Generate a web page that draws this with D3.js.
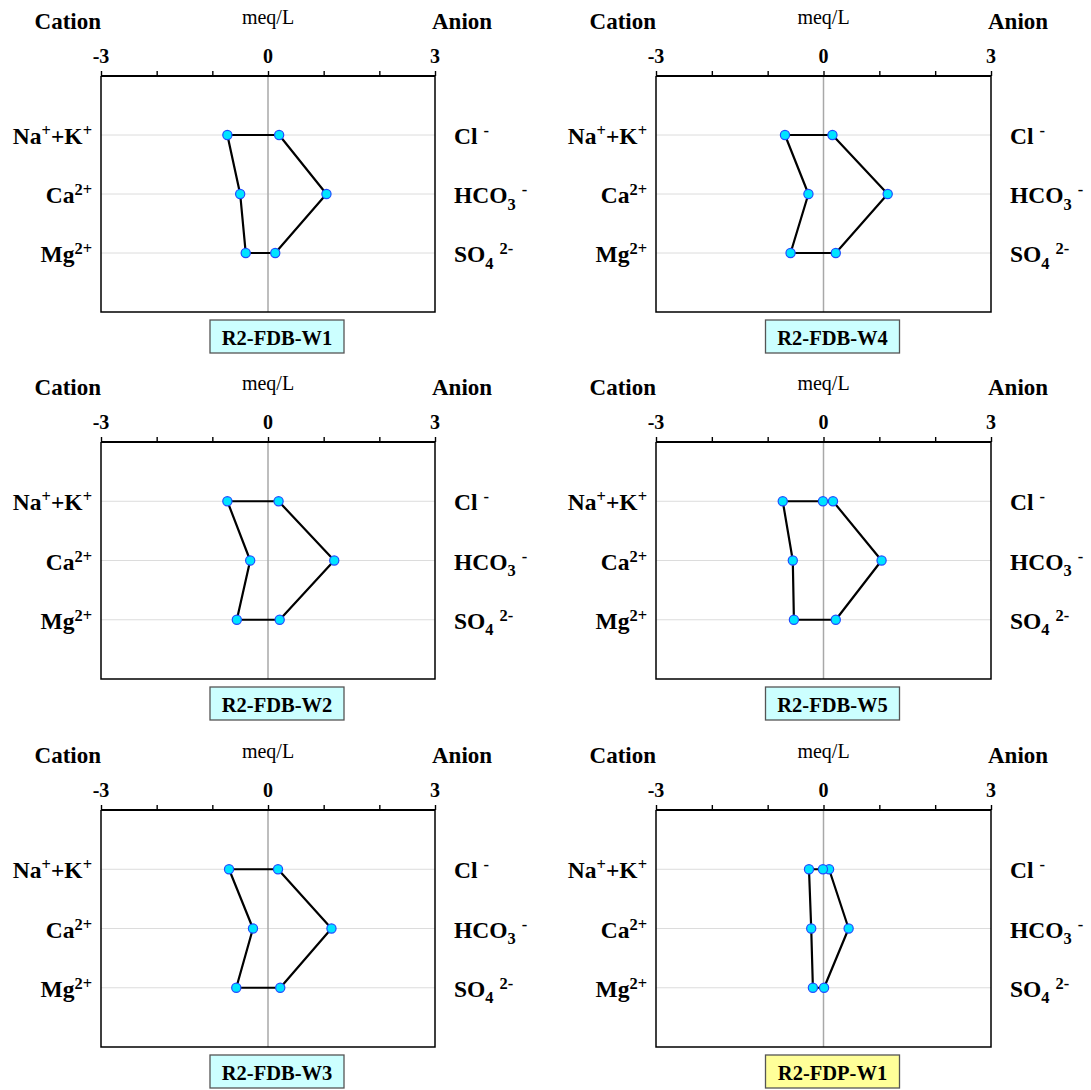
<!DOCTYPE html>
<html>
<head>
<meta charset="utf-8">
<script src="https://cdn.jsdelivr.net/npm/d3@7"></script>
<style>
  html, body { margin: 0; padding: 0; background: #fff; }
  svg { display: block; }
  text { font-family: "Liberation Serif", "Times New Roman", Times, serif; }
</style>
</head>
<body>
<svg id="chart" width="1091" height="1090"></svg>
<script>
// Stiff diagrams, six water samples (meq/L).
const samples = ["R2-FDB-W1", "R2-FDB-W4", "R2-FDB-W2", "R2-FDB-W5", "R2-FDB-W3", "R2-FDP-W1"];
const sampleKind = ["FDB", "FDB", "FDB", "FDB", "FDB", "FDP"];

// Cation concentrations (plotted to the left of zero)
const naK  = [0.73, 0.69, 0.73, 0.73, 0.70, 0.26];
const ca   = [0.50, 0.27, 0.32, 0.55, 0.27, 0.22];
const mg   = [0.40, 0.59, 0.56, 0.53, 0.57, 0.19];
// Anion concentrations (plotted to the right of zero)
const cl   = [0.20, 0.16, 0.19, 0.17, 0.18, 0.10];
const hco3 = [1.05, 1.15, 1.19, 1.04, 1.14, 0.45];
const so4  = [0.13, 0.22, 0.21, 0.22, 0.22, 0.01];
// Extra vertex on the Na+K / Cl edge (only where present)
const edgeVertex = [null, null, null, -0.01, null, -0.01];

const xTicks = [-3, -2, -1, 0, 1, 2, 3];
const xTickLabels = ["-3", "", "", "0", "", "", "3"];

// Ion labels as runs of normal / superscript / subscript text
const cationLabels = [
  [["Na"], ["+", "sup"], ["+K"], ["+", "sup"]],
  [["Ca"], ["2+", "sup"]],
  [["Mg"], ["2+", "sup"]]
];
const anionLabels = [
  [["Cl"], [" "], ["-", "sup"]],
  [["HCO"], ["3", "sub"], [" "], ["-", "sup"]],
  [["SO"], ["4", "sub"], [" "], ["2-", "sup"]]
];

const boxFill = { FDB: "#ccffff", FDP: "#ffff99" };

const svg = d3.select("#chart");
svg.append("rect").attr("width", 1091).attr("height", 1090).attr("fill", "#fff");

const colX = [[101, 435], [656, 991]];
const rowY = [[76, 312], [442, 679], [810, 1047]];

function richText(g, runs, x, y, anchor, size) {
  const t = g.append("text")
    .attr("x", x).attr("y", y)
    .attr("text-anchor", anchor)
    .attr("font-weight", "bold")
    .attr("font-size", size);
  let shift = 0;
  runs.forEach(([s, kind]) => {
    let target = 0, fs = size;
    if (kind === "sup") { target = -0.34 * size; fs = size * 0.7; }
    if (kind === "sub") { target = 0.28 * size; fs = size * 0.7; }
    t.append("tspan")
      .attr("dy", target - shift)
      .attr("font-size", fs)
      .attr("xml:space", "preserve")
      .style("white-space", "pre")
      .text(s);
    shift = target;
  });
}

samples.forEach((name, i) => {
  const col = i % 2, row = Math.floor(i / 2);
  const [x0, x1] = colX[col];
  const [top, bottom] = rowY[row];

  const x = d3.scaleLinear().domain([-3, 3]).range([x0, x1]);
  const y = d3.scalePoint().domain(["top", "r0", "r1", "r2", "bot"]).range([top, bottom]);
  const rows = ["r0", "r1", "r2"];

  const g = svg.append("g");

  // horizontal guide lines at each ion row
  g.selectAll("line.grid").data(rows).join("line")
    .attr("x1", x0).attr("x2", x1)
    .attr("y1", d => y(d)).attr("y2", d => y(d))
    .attr("stroke", "#dcdcdc").attr("stroke-width", 1);

  // zero line
  g.append("line")
    .attr("x1", x(0)).attr("x2", x(0))
    .attr("y1", top).attr("y2", bottom)
    .attr("stroke", "#a8a8a8").attr("stroke-width", 1.5);

  // frame: left, right, bottom
  g.append("path")
    .attr("d", `M${x0},${top}V${bottom}H${x1}V${top}`)
    .attr("fill", "none").attr("stroke", "#000").attr("stroke-width", 1.5);

  // top axis with upward ticks
  const axis = d3.axisTop(x).tickValues(xTicks).tickSize(5).tickFormat("");
  const ag = g.append("g").attr("transform", `translate(0,${top})`).call(axis);
  ag.select(".domain").attr("stroke", "#000").attr("stroke-width", 2.2)
    .attr("d", `M${x0},0H${x1}`);
  ag.selectAll(".tick line").attr("stroke", "#000").attr("stroke-width", 1.4);

  g.selectAll("text.tick").data(xTicks.filter((d, k) => xTickLabels[k] !== "")).join("text")
    .attr("x", d => x(d)).attr("y", top - 13)
    .attr("text-anchor", "middle")
    .attr("font-weight", "bold").attr("font-size", 20)
    .text(d => xTickLabels[xTicks.indexOf(d)]);

  // headings
  g.append("text").attr("x", x0).attr("y", top - 47)
    .attr("text-anchor", "end").attr("font-weight", "bold").attr("font-size", 23)
    .text("Cation");
  g.append("text").attr("x", x1 - 3).attr("y", top - 47)
    .attr("text-anchor", "start").attr("font-weight", "bold").attr("font-size", 23)
    .text("Anion");
  g.append("text").attr("x", x(0)).attr("y", top - 52)
    .attr("text-anchor", "middle").attr("font-size", 20)
    .text("meq/L");

  // ion labels
  rows.forEach((r, k) => {
    richText(g, cationLabels[k], x0 - 9, y(r) + 9, "end", 23.5);
    richText(g, anionLabels[k], x1 + 19, y(r) + 9, "start", 23.5);
  });

  // polygon vertices
  const pts = [
    [-naK[i], "r0"], [-ca[i], "r1"], [-mg[i], "r2"],
    [so4[i], "r2"], [hco3[i], "r1"], [cl[i], "r0"]
  ];
  if (edgeVertex[i] !== null) pts.push([edgeVertex[i], "r0"]);

  const line = d3.line().x(d => x(d[0])).y(d => y(d[1]));
  g.append("path")
    .attr("d", line(pts) + "Z")
    .attr("fill", "none").attr("stroke", "#000").attr("stroke-width", 2.2)
    .attr("stroke-linejoin", "round");

  g.selectAll("circle.pt").data(pts).join("circle")
    .attr("cx", d => x(d[0])).attr("cy", d => y(d[1]))
    .attr("r", 4.6)
    .attr("fill", "#00e4ff").attr("stroke", "#1f4dff").attr("stroke-width", 1.2);

  // sample name box
  const bx = x(0) - 58, by = bottom + 8, bw = 134, bh = 33;
  g.append("rect")
    .attr("x", bx).attr("y", by).attr("width", bw).attr("height", bh)
    .attr("fill", boxFill[sampleKind[i]]).attr("stroke", "#555").attr("stroke-width", 1.3);
  g.append("text")
    .attr("x", bx + bw / 2).attr("y", by + bh / 2 + 8)
    .attr("text-anchor", "middle").attr("font-weight", "bold").attr("font-size", 20.5)
    .text(name);
});
</script>
</body>
</html>
